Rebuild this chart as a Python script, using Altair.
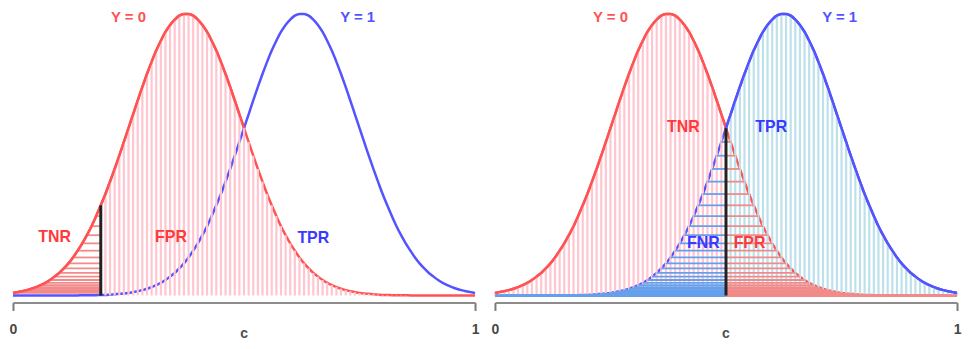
import altair as alt
import pandas as pd

# sampling grid of the decision threshold axis c (0 .. 1, step 0.01)
grid = [round(i / 100, 2) for i in range(101)]

# density of the score for Y = 0 (red), relative to its peak
dens_y0 = [0.009, 0.012, 0.015, 0.019, 0.024, 0.030, 0.037, 0.045, 0.055, 0.067,
           0.080, 0.096, 0.114, 0.135, 0.159, 0.185, 0.214, 0.246, 0.282, 0.320,
           0.360, 0.404, 0.449, 0.496, 0.545, 0.594, 0.643, 0.692, 0.740, 0.786,
           0.829, 0.869, 0.904, 0.935, 0.960, 0.979, 0.993, 0.999, 0.999, 0.993,
           0.979, 0.960, 0.935, 0.904, 0.869, 0.829, 0.786, 0.740, 0.692, 0.643,
           0.594, 0.545, 0.496, 0.449, 0.404, 0.360, 0.320, 0.282, 0.246, 0.214,
           0.185, 0.159, 0.135, 0.114, 0.096, 0.080, 0.067, 0.055, 0.045, 0.037,
           0.030, 0.024, 0.019, 0.015, 0.012, 0.009, 0.007, 0.006, 0.004, 0.003,
           0.002, 0.002, 0.001, 0.001, 0.001, 0.001, 0.0, 0.0, 0.0, 0.0,
           0.0, 0.0, 0.0, 0.0, 0.0, 0.0, 0.0, 0.0, 0.0, 0.0, 0.0]

# density of the score for Y = 1 (blue)
dens_y1 = [0.0, 0.0, 0.0, 0.0, 0.0, 0.0, 0.0, 0.0, 0.0, 0.0,
           0.0, 0.0, 0.0, 0.0, 0.0, 0.001, 0.001, 0.001, 0.001, 0.002,
           0.002, 0.003, 0.004, 0.006, 0.007, 0.009, 0.012, 0.015, 0.019, 0.024,
           0.030, 0.037, 0.045, 0.055, 0.067, 0.080, 0.096, 0.114, 0.135, 0.159,
           0.185, 0.214, 0.246, 0.282, 0.320, 0.360, 0.404, 0.449, 0.496, 0.545,
           0.594, 0.643, 0.692, 0.740, 0.786, 0.829, 0.869, 0.904, 0.935, 0.960,
           0.979, 0.993, 0.999, 0.999, 0.993, 0.979, 0.960, 0.935, 0.904, 0.869,
           0.829, 0.786, 0.740, 0.692, 0.643, 0.594, 0.545, 0.496, 0.449, 0.404,
           0.360, 0.320, 0.282, 0.246, 0.214, 0.185, 0.159, 0.135, 0.114, 0.096,
           0.080, 0.067, 0.055, 0.045, 0.037, 0.030, 0.024, 0.019, 0.015, 0.012, 0.009]

thresholds = [0.19, 0.5]
axis_ticks = [0, 1]
axis_title = "c"

# annotation texts per panel
left_labels = ["Y = 0", "Y = 1", "TNR", "FPR", "TPR"]
right_labels = ["Y = 0", "Y = 1", "TNR", "TPR", "FNR", "FPR"]

curve_df = pd.DataFrame({"x": grid, "y0": dens_y0, "y1": dens_y1})

W, H = 464, 283
RED = "#ff5353"
BLUE = "#5353ff"
TRED = "#ff3a3a"
TBLUE = "#3a3aff"
PINK = "#ffc6d0"
LBLUE = "#bde0ea"
HRED = "#f28a8a"
HBLUE = "#64a0ec"
FONT = "Liberation Sans"

xscale = alt.Scale(domain=[0, 1], nice=False, zero=False)
yscale = alt.Scale(domain=[0, 1], nice=False, zero=False)
xaxis = alt.Axis(values=axis_ticks, title=None, grid=False, domain=True,
                 domainColor="#8c8c8c", domainWidth=2, tickColor="#7a7a7a",
                 tickWidth=2, tickSize=8, labelFontSize=14, labelFont=FONT,
                 labelFontWeight="bold", labelColor="#474747", labelPadding=12,
                 offset=7, labelFlush=False, format="d")

X = alt.X("x:Q", scale=xscale, axis=xaxis)


def Y(field):
    return alt.Y(field, scale=yscale, axis=None)


def texts(labels, xs, ys, colors, size):
    df = pd.DataFrame({"label": labels, "x": xs, "y": ys, "col": colors})
    return alt.Chart(df).mark_text(font=FONT, fontSize=size, fontWeight="bold",
                                   baseline="middle", align="center").encode(
        x=X, y=Y("y:Q"), text="label:N",
        color=alt.Color("col:N", scale=None))


def curve(field, color, filt=None):
    ch = alt.Chart(curve_df)
    if filt is not None:
        ch = ch.transform_filter(filt)
    return ch.mark_line(color=color, strokeWidth=2.5, interpolate="monotone").encode(
        x=X, y=Y(field))


def vhatch(filt, field, color):
    return (alt.Chart(curve_df).transform_filter(filt).transform_calculate(zero="0")
            .mark_rule(color=color, strokeWidth=2.2)
            .encode(x=X, y=Y(field), y2="zero:Q"))


def hhatch(filt, field, color, c):
    return (alt.Chart(curve_df).transform_filter(filt).transform_calculate(c=str(c))
            .mark_rule(color=color, strokeWidth=1.8)
            .encode(x=X, x2="c:Q", y=Y(field)))


def panel(c, mode):
    left_of = f"datum.x < {c} - 0.001"
    right_of = f"datum.x > {c} + 0.001"
    layers = [curve("y0:Q", RED), curve("y1:Q", BLUE)]
    if mode == "left":
        layers.append(vhatch(right_of, "y0:Q", PINK))          # FPR
        layers.append(hhatch(left_of, "y0:Q", HRED, c))        # TNR
        layers.append(curve("y0:Q", RED, "datum.x <= 0.5"))
    else:
        layers.append(vhatch(f"datum.x < {c} + 0.001", "y0:Q", PINK))   # TNR
        layers.append(vhatch(right_of, "y1:Q", LBLUE))                   # TPR
        layers.append(hhatch(left_of, "y1:Q", HBLUE, c))                 # FNR
        layers.append(hhatch(right_of, "y0:Q", HRED, c))                 # FPR
        layers.append(curve("y0:Q", RED, f"datum.x <= {c} + 0.001"))
        layers.append(curve("y1:Q", BLUE, f"datum.x >= {c} - 0.001"))
    # threshold line up to the red density at c
    layers.append(alt.Chart(curve_df).transform_filter(f"abs(datum.x - {c}) < 0.001")
                  .transform_calculate(zero="0")
                  .mark_rule(color="#222222", strokeWidth=3)
                  .encode(x=X, y=Y("y0:Q"), y2="zero:Q"))
    # axis title "c"
    tdf = pd.DataFrame({"label": [axis_title], "x": [0.5], "y": [-0.136]})
    layers.append(alt.Chart(tdf).mark_text(font=FONT, fontSize=14, fontWeight="bold",
                                            color="#505050", baseline="middle")
                  .encode(x=X, y=Y("y:Q"), text="label:N"))
    if mode == "left":
        layers.append(texts(left_labels[:2], [0.25, 0.746], [0.987, 0.987], [RED, BLUE], 15))
        layers.append(texts(left_labels[2:], [0.09, 0.342, 0.65],
                            [0.207, 0.207, 0.204], [TRED, TRED, TBLUE], 16))
    else:
        layers.append(texts(right_labels[:2], [0.25, 0.746], [0.987, 0.987], [RED, BLUE], 15))
        layers.append(texts(right_labels[2:], [0.408, 0.598, 0.451, 0.551],
                            [0.599, 0.599, 0.186, 0.186], [TRED, TBLUE, TBLUE, TRED], 16))
    return alt.layer(*layers).properties(width=W, height=H)


chart = alt.hconcat(panel(thresholds[0], "left"), panel(thresholds[1], "right"),
                    spacing=10).properties(
    padding={"left": 0, "top": 0, "right": 0, "bottom": 0}
).configure_view(stroke=None)

chart.save("out.html", embed_options={"renderer": "svg", "actions": False})
